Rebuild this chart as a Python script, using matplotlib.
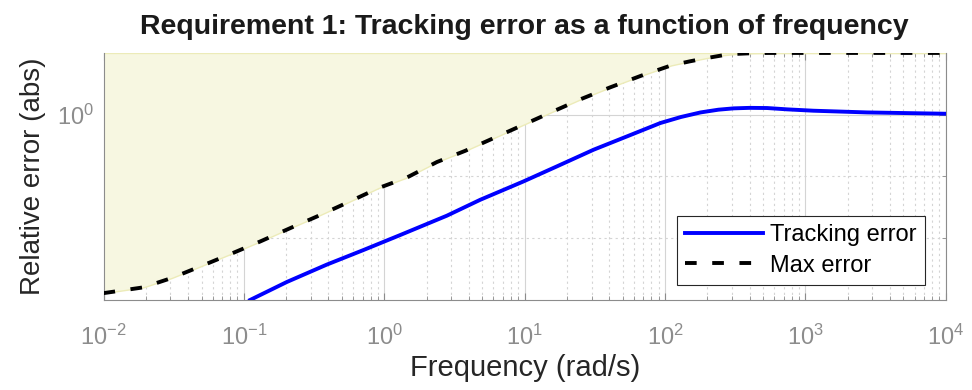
import numpy as np
import matplotlib
matplotlib.use("Agg")
import matplotlib.pyplot as plt
from matplotlib.ticker import LogLocator, FixedLocator, NullFormatter

plt.rcParams['font.family'] = ['Liberation Sans', 'DejaVu Sans']
plt.rcParams['mathtext.default'] = 'regular'
plt.rcParams['axes.unicode_minus'] = False

# Max error bound (dashed)
max_freq = [0.01, 0.0192, 0.0306, 0.0488, 0.0798, 0.1306, 0.2138, 0.3311, 0.5559,
            0.9099, 1.449, 2.371, 3.776, 6.166, 9.817, 16.07, 25.59, 40.74,
            67.76, 110.9, 150.0, 199.1, 260.0, 325.8, 420.0, 544.5, 1000.0, 10000.0]
max_err = [0.135, 0.144, 0.160, 0.182, 0.209, 0.241, 0.280, 0.319, 0.375,
           0.439, 0.494, 0.588, 0.667, 0.775, 0.894, 1.04, 1.197, 1.36,
           1.55, 1.74, 1.82, 1.89, 1.95, 1.98, 1.995, 2.0, 2.0, 2.0]

# Tracking error (solid blue)
trk_freq = [0.1107, 0.2023, 0.390, 0.711, 1.297, 2.793, 4.831, 9.817,
            16.98, 30.97, 53.58, 92.68, 130.0, 179.1, 240.0, 308.3, 400.0,
            533.3, 741.3, 1140.0, 2754.0, 10000.0]
trk_err = [0.125, 0.153, 0.186, 0.219, 0.259, 0.322, 0.385, 0.473,
           0.560, 0.675, 0.784, 0.911, 0.975, 1.026, 1.058, 1.074, 1.08,
           1.078, 1.062, 1.046, 1.026, 1.011]

x_ticks = [1e-2, 1e-1, 1e0, 1e1, 1e2, 1e3, 1e4]

fig = plt.figure(figsize=(9.72, 3.9), dpi=100)
ax = fig.add_axes([0.1065, 0.2308, 0.8665, 0.6334])

ax.fill_between(max_freq, max_err, 2.0, color='#f7f7e1', edgecolor='#ecebb8',
                linewidth=1.0, zorder=1)
ax.plot(trk_freq, trk_err, color='#0000ff', lw=2.8, label='Tracking error', zorder=3)
ax.plot(max_freq, max_err, color='black', lw=2.8, dashes=(3, 4),
        label='Max error', zorder=3)

ax.set_xscale('log')
ax.set_yscale('log')
ax.set_xlim(1e-2, 1e4)
ax.set_ylim(0.125, 2.0)

ax.xaxis.set_major_locator(FixedLocator(x_ticks))
ax.xaxis.set_minor_locator(LogLocator(base=10, subs=np.arange(2, 10), numticks=20))
ax.xaxis.set_minor_formatter(NullFormatter())
ax.set_xticklabels(['$10^{%d}$' % int(np.log10(t)) for t in x_ticks])
ax.yaxis.set_major_locator(FixedLocator([1.0]))
ax.yaxis.set_minor_locator(FixedLocator([0.25, 0.5]))
ax.yaxis.set_minor_formatter(NullFormatter())
ax.set_yticklabels(['$10^{0}$'])

ax.grid(True, which='major', color='#d4d4d4', lw=0.8, ls='-', zorder=0)
ax.grid(True, which='minor', color='#d4d4d4', lw=0.8, ls=(0, (2, 3)), zorder=0)
ax.set_axisbelow(True)

ax.tick_params(which='both', direction='in', top=True, right=True, colors='#8c8c8c',
               labelsize=17, labelcolor='#8c8c8c')
ax.tick_params(which='major', length=5)
ax.tick_params(axis='x', which='major', pad=18)
ax.tick_params(axis='y', which='major', pad=7)
ax.tick_params(which='minor', length=3)
for side in ['left', 'right', 'bottom', 'top']:
    ax.spines[side].set_color('#8c8c8c')
ax.spines['top'].set_visible(False)

ax.set_xlabel('Frequency (rad/s)', fontsize=21, color='#262626', labelpad=3)
ax.set_ylabel('Relative error (abs)', fontsize=20, color='#262626', labelpad=8)
ax.set_title('Requirement 1: Tracking error as a function of frequency',
             fontsize=20.5, fontweight='bold', color='#1a1a1a', pad=14)

leg = ax.legend(loc='lower right', bbox_to_anchor=(0.975, 0.061), borderaxespad=0,
                fontsize=17, fancybox=False, framealpha=1, edgecolor='#262626',
                handlelength=3.3, labelspacing=0.35, handletextpad=0.3, borderpad=0.35)
leg.get_frame().set_linewidth(0.8)

fig.savefig('out.png', dpi=100)
